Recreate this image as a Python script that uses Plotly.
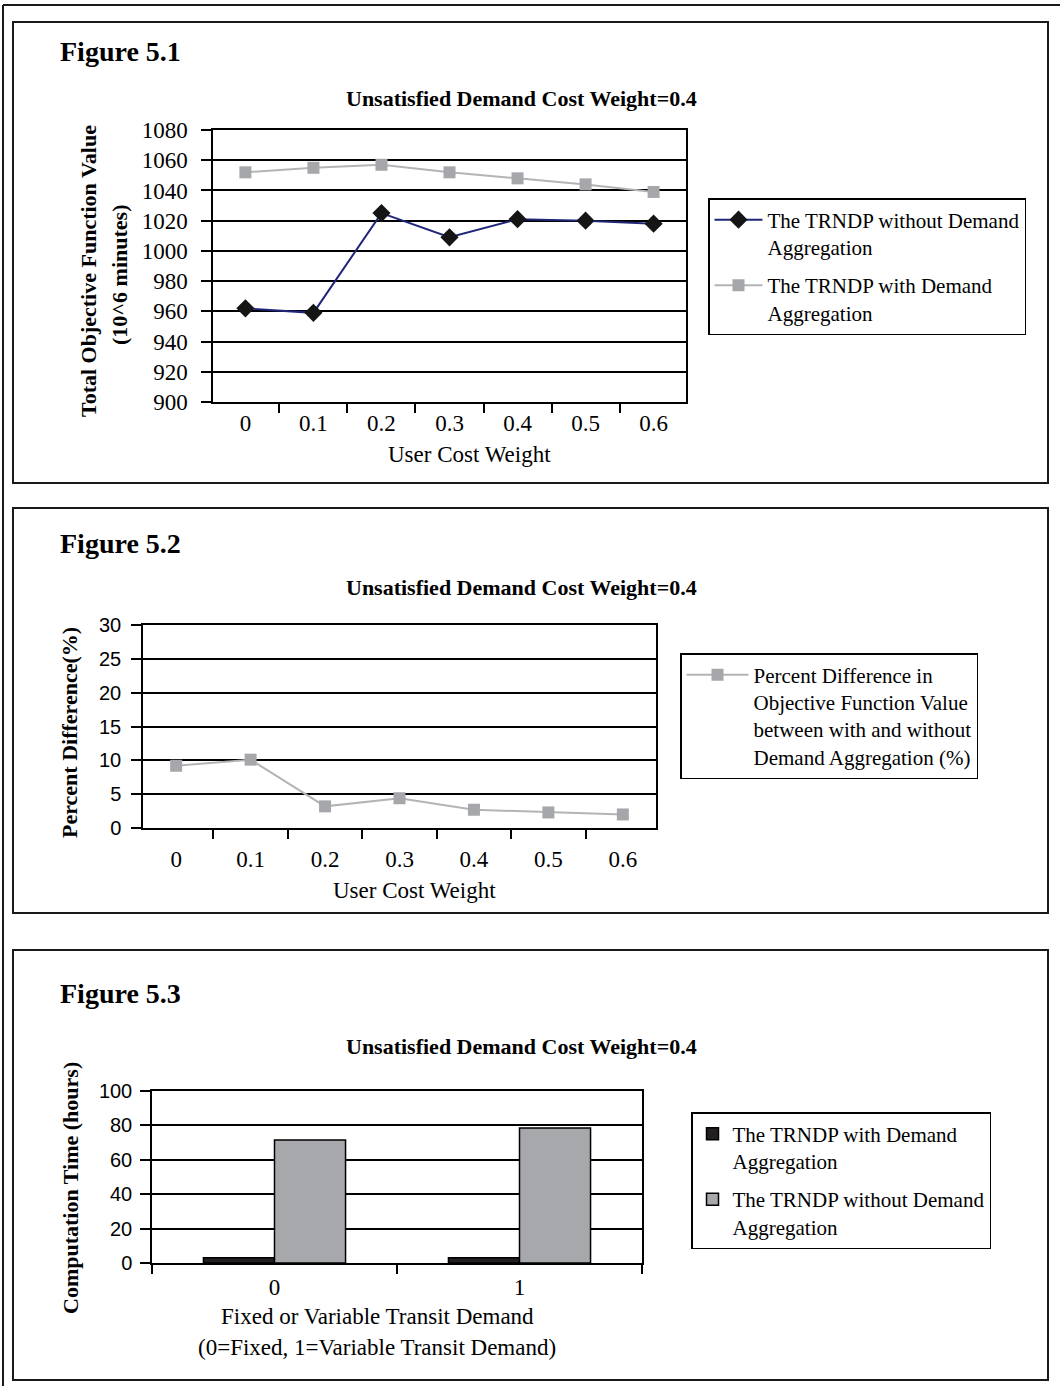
import plotly.graph_objects as go

W, H = 1060, 1386

# ---------------- data ----------------
user_cost_weight = ["0", "0.1", "0.2", "0.3", "0.4", "0.5", "0.6"]
obj_without_agg = [962, 959, 1025, 1009, 1021, 1020, 1018]
obj_with_agg = [1052, 1055, 1057, 1052, 1048, 1044, 1039]
pct_difference = [9.2, 10.1, 3.2, 4.4, 2.7, 2.3, 2.0]
demand_type = ["0", "1"]
time_with_agg = [3, 3]
time_without_agg = [71.5, 78.5]

SERIF = "Liberation Serif, Times New Roman, serif"
SANS = "Liberation Sans, Arial, sans-serif"


def px(x):
    return x / W


def py(y):
    return 1 - y / H


fig = go.Figure()

# ---------------- Figure 5.1 ----------------
fig.add_trace(go.Scatter(
    x=user_cost_weight, y=obj_without_agg, mode="lines+markers",
    name="The TRNDP without Demand<br>Aggregation",
    line=dict(color="#1F2678", width=2),
    marker=dict(symbol="diamond", size=14, color="#151515"),
    xaxis="x", yaxis="y", legend="legend", legendgroup="a"))
fig.add_trace(go.Scatter(
    x=user_cost_weight, y=obj_with_agg, mode="lines+markers",
    name="The TRNDP with Demand<br>Aggregation",
    line=dict(color="#B4B4B6", width=2),
    marker=dict(symbol="square", size=12, color="#A6A7AA"),
    xaxis="x", yaxis="y", legend="legend", legendgroup="b"))

# ---------------- Figure 5.2 ----------------
fig.add_trace(go.Scatter(
    x=user_cost_weight, y=pct_difference, mode="lines+markers",
    name="Percent Difference in<br>Objective Function Value<br>between with and without<br>Demand Aggregation (%)",
    line=dict(color="#B4B4B6", width=2),
    marker=dict(symbol="square", size=12, color="#A6A7AA"),
    xaxis="x2", yaxis="y2", legend="legend2", legendgroup="c"))

# ---------------- Figure 5.3 ----------------
fig.add_trace(go.Bar(
    x=demand_type, y=time_with_agg,
    name="The TRNDP with Demand<br>Aggregation",
    marker=dict(color="#231F20", line=dict(color="#000000", width=1.5)),
    xaxis="x3", yaxis="y3", legend="legend3", legendgroup="d"))
fig.add_trace(go.Bar(
    x=demand_type, y=time_without_agg,
    name="The TRNDP without Demand<br>Aggregation",
    marker=dict(color="#A7A8AB", line=dict(color="#000000", width=1.5)),
    xaxis="x3", yaxis="y3", legend="legend3", legendgroup="e"))


def xax(x0, x1, anchor, standoff=0, ticklen=9):
    return dict(domain=[px(x0), px(x1)], anchor=anchor, type="category",
                tickson="boundaries", ticks="outside", ticklen=ticklen,
                tickwidth=1.5, tickcolor="black", showline=True,
                linecolor="black", linewidth=1.5, mirror=True, showgrid=False,
                zeroline=False, ticklabelstandoff=standoff, automargin=False,
                tickfont=dict(family=SERIF, size=23, color="black"))


def yax(y_top, y_bot, anchor, rng, dtick, font, standoff):
    return dict(domain=[py(y_bot), py(y_top)], anchor=anchor, range=rng,
                dtick=dtick, tick0=rng[0], ticks="outside", ticklen=10,
                tickwidth=1.5, tickcolor="black", showline=True,
                linecolor="black", linewidth=1.5, mirror=True, showgrid=True,
                gridcolor="black", gridwidth=1.5, zeroline=False,
                ticklabelstandoff=standoff, automargin=False, tickfont=font)


legend_common = dict(bgcolor="white", bordercolor="black", borderwidth=1.5,
                     font=dict(family=SERIF, size=21, color="black"),
                     xanchor="left", yanchor="top", tracegroupgap=8,
                     traceorder="grouped", valign="top")

fig.update_layout(
    width=W, height=H, autosize=False,
    margin=dict(l=0, r=0, t=0, b=0, pad=0, autoexpand=False),
    paper_bgcolor="white", plot_bgcolor="white",
    showlegend=True,
    barmode="group", bargap=0.42, bargroupgap=0,
    xaxis=xax(213, 686, "y", standoff=0),
    yaxis=yax(130, 402, "x", [900, 1080], 20,
              dict(family=SERIF, size=23, color="black"), 9),
    xaxis2=xax(143, 656, "y2", standoff=10),
    yaxis2=yax(625, 828, "x2", [0, 30], 5,
               dict(family=SANS, size=20, color="black"), 6),
    xaxis3=xax(152, 642, "y3", standoff=3),
    yaxis3=yax(1091, 1263, "x3", [0, 100], 20,
               dict(family=SANS, size=20, color="black"), 4),
    legend=dict(legend_common, x=px(708), y=py(198), itemwidth=48),
    legend2=dict(legend_common, x=px(680), y=py(653), itemwidth=62),
    legend3=dict(legend_common, x=px(691), y=py(1112)),
)

# ---------------- frames ----------------
shapes = []
for (x0, y0, x1, y1) in [(13, 22, 1048, 483), (13, 508, 1048, 913), (13, 950, 1048, 1380)]:
    shapes.append(dict(type="rect", xref="paper", yref="paper",
                       x0=px(x0), x1=px(x1), y0=py(y1), y1=py(y0),
                       line=dict(color="#1a1a1a", width=2), layer="below"))
shapes.append(dict(type="line", xref="paper", yref="paper", x0=px(3), x1=1,
                   y0=py(5), y1=py(5), line=dict(color="#1a1a1a", width=2)))
shapes.append(dict(type="line", xref="paper", yref="paper", x0=px(3), x1=px(3),
                   y0=0, y1=py(5), line=dict(color="#1a1a1a", width=2)))
fig.update_layout(shapes=shapes)

# ---------------- texts ----------------
ann = []


def text(x, y, s, size, bold=False, angle=0, xanchor="center", family=SERIF):
    if bold:
        s = "<b>" + s + "</b>"
    ann.append(dict(xref="paper", yref="paper", x=px(x), y=py(y), text=s,
                    showarrow=False, xanchor=xanchor, yanchor="middle",
                    textangle=angle, font=dict(family=family, size=size, color="black")))


for (yy, lab) in [(52, "Figure 5.1"), (544, "Figure 5.2"), (994, "Figure 5.3")]:
    text(58, yy, lab, 28, bold=True, xanchor="left")
for yy in [99, 587, 1046]:
    text(521, yy, "Unsatisfied Demand Cost Weight=0.4", 22, bold=True)

text(88, 271, "Total Objective Function Value", 22, bold=True, angle=-90)
text(120, 275, "(10^6 minutes)", 22, bold=True, angle=-90)
text(469, 454, "User Cost Weight", 23)

text(70, 733, "Percent Difference(%)", 22, bold=True, angle=-90)
text(414, 890, "User Cost Weight", 23)

text(70, 1188, "Computation Time (hours)", 22, bold=True, angle=-90)
text(377, 1316, "Fixed or Variable Transit Demand", 23)
text(377, 1347, "(0=Fixed, 1=Variable Transit Demand)", 23)

fig.update_layout(annotations=ann)

fig.write_html("out.html", config={"displayModeBar": False},
               post_script="document.body.style.margin='0px';document.body.style.overflow='hidden';")
